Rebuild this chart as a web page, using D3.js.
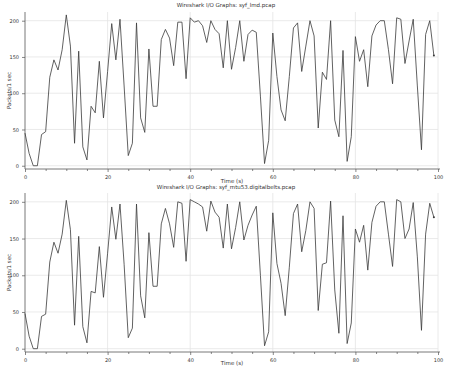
<!DOCTYPE html>
<html><head><meta charset="utf-8">
<script src="https://cdn.jsdelivr.net/npm/d3@7"></script>
<style>body{margin:0;background:#fff}svg{display:block}text{font-family:"DejaVu Sans",sans-serif;fill:#333}</style>
</head><body><svg id="c" width="451" height="370"></svg>
<script>
const titles = ["Wireshark I/O Graphs: syf_lmd.pcap", "Wireshark I/O Graphs: syf_mtu53.digitalbelts.pcap"];
const xLabel = "Time (s)";
const yLabel = "Packets/1 sec";
const xTicks = [0, 20, 40, 60, 80, 100];
const yTicks = [0, 50, 100, 150, 200];
const topPackets = [45,17,0,0,43,47,122,146,132,160,208,165,31,158,26,8,82,73,144,66,
 130,196,146,202,110,14,31,197,66,46,161,82,82,174,188,176,138,198,198,120,
 204,198,200,193,170,200,188,182,135,200,133,163,200,144,181,187,184,96,3,35,
 183,123,77,62,123,190,197,130,165,200,179,52,129,119,200,63,40,159,6,40,
 178,144,160,109,179,194,200,200,160,113,204,202,141,172,202,110,22,181,200,152];
const bottomPackets = [48,17,0,0,44,47,118,145,130,156,202,162,32,153,30,8,78,76,139,70,
 130,193,149,197,115,15,28,197,72,42,158,85,85,170,191,170,138,200,198,119,
 203,200,197,193,160,201,186,179,137,197,136,165,200,148,168,182,194,100,4,23,
 185,116,89,45,111,184,197,132,161,200,191,52,115,117,201,80,21,181,7,35,
 163,145,168,107,172,194,200,200,156,112,203,200,150,163,199,125,25,156,198,179];

const svg = d3.select("#c");
const panels = [
  {title: titles[0], data: topPackets, titleY: 7, top: 12, bottom: 169, xlabY: 183},
  {title: titles[1], data: bottomPackets, titleY: 189, top: 193, bottom: 352, xlabY: 365}
];
const left = 25, right = 438;
panels.forEach(p => {
  const g = svg.append("g");
  const x = d3.scaleLinear().domain([0, 100]).range([left, right]);
  const y = d3.scaleLinear().domain([-4.5, 212]).range([p.bottom, p.top]);
  // grid
  g.selectAll(".gx").data(xTicks.slice(1)).join("line")
    .attr("x1", d => x(d)).attr("x2", d => x(d)).attr("y1", p.top).attr("y2", p.bottom)
    .attr("stroke", "#e4e4e4").attr("stroke-width", 0.8);
  g.selectAll(".gy").data(yTicks).join("line")
    .attr("x1", left).attr("x2", right).attr("y1", d => y(d)).attr("y2", d => y(d))
    .attr("stroke", "#e4e4e4").attr("stroke-width", 0.8);
  // axes
  const xa = g.append("g").attr("transform", `translate(0,${p.bottom})`)
    .call(d3.axisBottom(x).tickValues(d3.range(0, 101, 5)).tickSize(2).tickFormat(d => xTicks.includes(d) ? d : ""));
  xa.selectAll(".tick line").attr("y2", d => xTicks.includes(d) ? 3 : 2);
  const ya = g.append("g").attr("transform", `translate(${left},0)`)
    .call(d3.axisLeft(y).tickValues(yTicks).tickSize(3));
  [xa, ya].forEach(a => {
    a.select(".domain").attr("stroke", "#555").attr("stroke-width", 0.8);
    a.selectAll(".tick line").attr("stroke", "#555").attr("stroke-width", 0.7);
    a.selectAll("text").attr("font-size", 5).attr("fill", "#444").style("font-family", "DejaVu Sans");
  });
  xa.selectAll("text").attr("dy", "0.9em");
  ya.select(".domain").attr("d", `M0,${p.top}V${p.bottom}`);
  xa.select(".domain").attr("d", `M${left},0H${right + 2}`);
  // line
  const line = d3.line().x((d, i) => x(i)).y(d => y(d));
  g.append("path").datum(p.data).attr("d", line)
    .attr("fill", "none").attr("stroke", "#3a3a3a").attr("stroke-width", 0.8).attr("stroke-linejoin", "round");
  g.append("circle").attr("cx", x(p.data.length - 1)).attr("cy", y(p.data[p.data.length - 1]))
    .attr("r", 1).attr("fill", "#3a3a3a");
  // texts
  g.append("text").attr("x", 226).attr("y", p.titleY).attr("text-anchor", "middle")
    .attr("font-size", 5.5).text(p.title);
  g.append("text").attr("x", 232).attr("y", p.xlabY).attr("text-anchor", "middle")
    .attr("font-size", 5.5).text(xLabel);
  g.append("text").attr("transform", `translate(11,${(p.top + p.bottom) / 2}) rotate(-90)`)
    .attr("text-anchor", "middle").attr("font-size", 5.5).text(yLabel);
});
</script></body></html>
